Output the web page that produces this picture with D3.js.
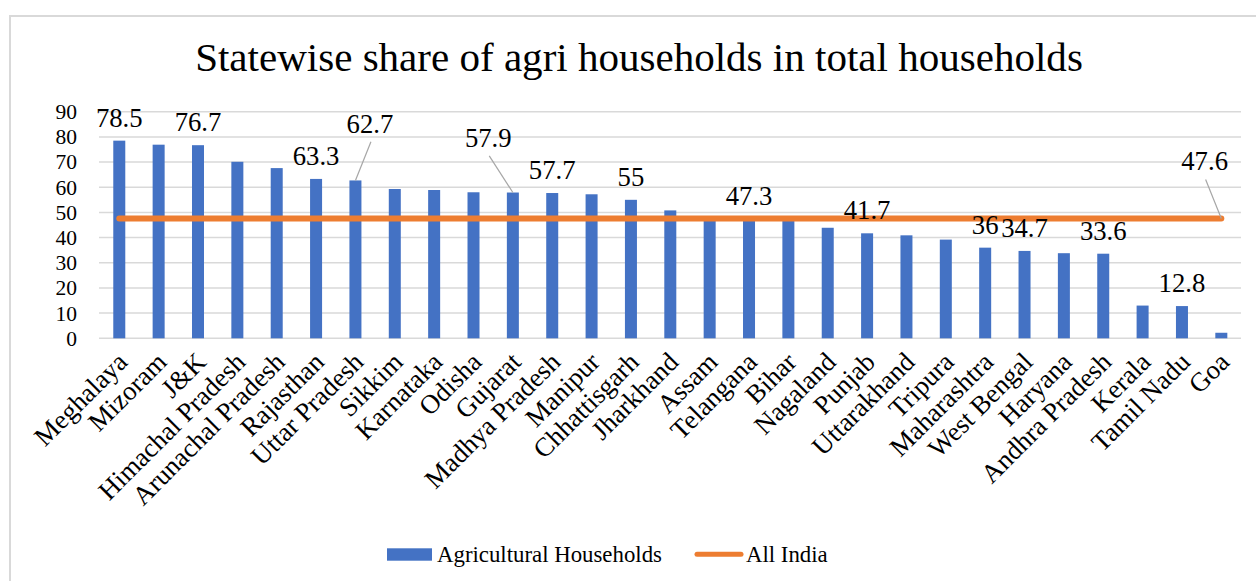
<!DOCTYPE html>
<html>
<head>
<meta charset="utf-8">
<script src="https://cdn.jsdelivr.net/npm/d3@7"></script>
<style>
  html, body { margin: 0; padding: 0; background: #fff; }
  svg { display: block; }
</style>
</head>
<body>
<svg id="chart" width="1256" height="581"></svg>
<script>
// ---------------- data ----------------
const chartTitle = "Statewise share of agri households in total households";
const categories = ["Meghalaya","Mizoram","J&K","Himachal Pradesh","Arunachal Pradesh","Rajasthan",
  "Uttar Pradesh","Sikkim","Karnataka","Odisha","Gujarat","Madhya Pradesh","Manipur","Chhattisgarh",
  "Jharkhand","Assam","Telangana","Bihar","Nagaland","Punjab","Uttarakhand","Tripura","Maharashtra",
  "West Bengal","Haryana","Andhra Pradesh","Kerala","Tamil Nadu","Goa"];
const agriHouseholds = [78.5, 76.9, 76.7, 70.1, 67.6, 63.3, 62.7, 59.3, 58.9, 58.0, 57.9, 57.7, 57.2, 55,
  50.8, 47.8, 47.3, 47.0, 43.9, 41.7, 40.9, 39.2, 36, 34.7, 33.8, 33.6, 13.0, 12.8, 2.2];
const allIndiaValue = 47.6;
const labelledStates = ["Meghalaya","J&K","Rajasthan","Uttar Pradesh","Gujarat","Madhya Pradesh",
  "Chhattisgarh","Telangana","Punjab","Maharashtra","West Bengal","Andhra Pradesh","Tamil Nadu"];
const yTicks = [0,10,20,30,40,50,60,70,80,90];
const seriesNames = ["Agricultural Households", "All India"];

// ---------------- styling / layout ----------------
const BLUE = "#4472C4", ORANGE = "#ED7D31", GRID = "#D9D9D9", TXT = "#000";
const FONT = "'Liberation Serif', serif";
// label displacement (pixels) for labels that were moved off their points, with leader lines
const labelShift = { "Uttar Pradesh": [14.5, -33.6], "Gujarat": [-24.6, -31.7], "__allIndia": [-16.7, -34] };

const svg = d3.select("#chart").style("font-family", FONT);

function fitSize(str, target, base) {
  const t = svg.append("text").attr("font-size", base).text(str);
  const w = t.node().getComputedTextLength();
  t.remove();
  return base * target / w;
}
const titleSize = fitSize(chartTitle, 888, 32);
const legendSize = fitSize(seriesNames[0], 225, 21);
const axisSize = legendSize * 1.17;
const yTickSize = 21.5;

// frame
svg.append("path").attr("d", "M1256,16 L10,16 L10,581")
  .attr("fill", "none").attr("stroke", GRID).attr("stroke-width", 2);

// scales
const x = d3.scaleBand().domain(categories).range([99.6, 1241]).paddingInner(0.695).paddingOuter(0.3475);
const y = d3.scaleLinear().domain([0, 90]).range([338.3, 111.7]);
const cx = d => x(d) + x.bandwidth() / 2;

// title
svg.append("text").attr("x", 639).attr("y", 71).attr("text-anchor", "middle")
  .attr("font-size", titleSize).attr("fill", TXT).text(chartTitle);

// gridlines
svg.append("g").selectAll("line").data(yTicks).join("line")
  .attr("x1", 99).attr("x2", 1241)
  .attr("y1", d => y(d)).attr("y2", d => y(d))
  .attr("stroke", GRID).attr("stroke-width", 1.5);

// y axis labels
const yAxis = d3.axisLeft(y).tickValues(yTicks).tickSize(0).tickPadding(0);
const gy = svg.append("g").attr("transform", "translate(77,0)").call(yAxis);
gy.select(".domain").remove();
gy.selectAll("text").attr("font-family", FONT).attr("font-size", yTickSize).attr("fill", TXT);

// bars
svg.append("g").selectAll("rect").data(categories).join("rect")
  .attr("x", d => x(d)).attr("width", x.bandwidth())
  .attr("y", (d, i) => y(agriHouseholds[i]))
  .attr("height", (d, i) => y(0) - y(agriHouseholds[i]))
  .attr("fill", BLUE);

// all india line
const line = d3.line().x(d => cx(d)).y(() => y(allIndiaValue));
svg.append("path").datum([categories[0], categories[categories.length - 1]])
  .attr("d", line).attr("fill", "none").attr("stroke", ORANGE)
  .attr("stroke-width", 6).attr("stroke-linecap", "round");

// x axis labels
svg.append("g").selectAll("text").data(categories).join("text")
  .attr("transform", d => `translate(${cx(d) + 3},357) rotate(-45)`)
  .attr("text-anchor", "end").attr("dy", "0.35em")
  .attr("font-size", axisSize).attr("fill", TXT).text(d => d);

// data labels
const labelData = labelledStates.map(s => {
  const i = categories.indexOf(s);
  return { key: s, px: cx(s), py: y(agriHouseholds[i]), text: String(agriHouseholds[i]) };
});
labelData.push({ key: "__allIndia", px: cx(categories[categories.length - 1]), py: y(allIndiaValue), text: String(allIndiaValue) });

const gl = svg.append("g");
labelData.forEach(d => {
  const sh = labelShift[d.key] || [0, 0];
  const lx = d.px + sh[0], ly = d.py - 14 + sh[1];
  if (labelShift[d.key]) {
    gl.append("line").attr("x1", lx + 1).attr("y1", ly + 9).attr("x2", d.px).attr("y2", d.py)
      .attr("stroke", "#A6A6A6").attr("stroke-width", 1.2);
  }
  gl.append("text").attr("x", lx).attr("y", ly).attr("text-anchor", "middle")
    .attr("font-size", axisSize).attr("fill", TXT).text(d.text);
});

// legend
const lg = svg.append("g");
lg.append("rect").attr("x", 387).attr("y", 548.3).attr("width", 45).attr("height", 12.4).attr("fill", BLUE);
lg.append("text").attr("x", 437).attr("y", 562).attr("font-size", legendSize).attr("fill", TXT).text(seriesNames[0]);
lg.append("line").attr("x1", 697).attr("x2", 741).attr("y1", 554.3).attr("y2", 554.3)
  .attr("stroke", ORANGE).attr("stroke-width", 5).attr("stroke-linecap", "round");
lg.append("text").attr("x", 746).attr("y", 562).attr("font-size", legendSize).attr("fill", TXT).text(seriesNames[1]);
</script>
</body>
</html>
